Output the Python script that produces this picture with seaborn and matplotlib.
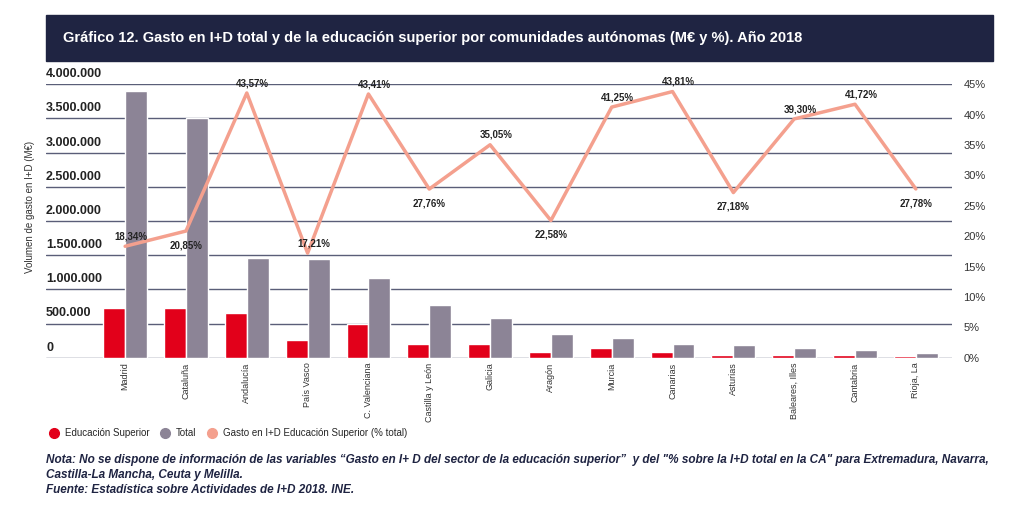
import numpy as np
import pandas as pd
import matplotlib.pyplot as plt
import matplotlib.transforms as mtransforms
import seaborn as sns
from matplotlib.lines import Line2D

regiones = ["Madrid", "Cataluña", "Andalucía", "País Vasco", "C. Valenciana", "Castilla y León",
            "Galicia", "Aragón", "Murcia", "Canarias", "Asturias", "Baleares, Illes",
            "Cantabria", "Rioja, La"]
educ_superior = [720000, 720000, 650000, 265000, 500000, 205000, 205000, 90000, 135000,
                 90000, 45000, 45000, 45000, 25000]
total = [3900000, 3500000, 1460000, 1440000, 1160000, 765000, 575000, 340000, 295000,
         205000, 180000, 135000, 115000, 65000]
porcentaje = [18.34, 20.85, 43.57, 17.21, 43.41, 27.76, 35.05, 22.58, 41.25, 43.81,
              27.18, 39.30, 41.72, 27.78]
etiqueta_abajo = [False, True, False, False, False, True, False, True, False, False,
                  True, False, False, True]

ROJO = "#E2001A"
GRIS = "#8C8496"
SALMON = "#F4A08E"
NAVY = "#1F2442"

sns.set_theme(style="white")
plt.rcParams["font.family"] = ["Liberation Sans", "DejaVu Sans"]

df = pd.DataFrame({"region": regiones * 2,
                   "valor": educ_superior + total,
                   "serie": ["Educación Superior"] * 14 + ["Total"] * 14})

fig = plt.figure(figsize=(10.24, 5.11), dpi=100)
fig.patches.append(plt.Rectangle((0.045, 0.88), 0.925, 0.09, transform=fig.transFigure,
                                 color=NAVY, zorder=0))
fig.text(0.062, 0.925, "Gráfico 12. Gasto en I+D total y de la educación superior por comunidades autónomas (M€ y %). Año 2018",
         color="white", fontsize=10.5, fontweight="bold", va="center")

ax = fig.add_axes([0.045, 0.30, 0.885, 0.535])
sns.barplot(data=df, x="region", y="valor", hue="serie", palette=[ROJO, GRIS],
            saturation=1, width=0.72, ax=ax, legend=False, zorder=3)
ax.set_ylim(0, 4000000)
yt = np.arange(0, 4000001, 500000)
ax.set_yticks(yt)
ax.set_yticklabels([])
ax.tick_params(axis="y", length=0)
trans = mtransforms.blended_transform_factory(ax.transAxes, ax.transData)
for v in yt:
    ax.text(0.0, v + 60000, f"{int(v):,}".replace(",", "."), transform=trans,
            ha="left", va="bottom", fontsize=9, fontweight="bold", color="#222")
ax.grid(axis="y", color="#5A5E78", linewidth=1, zorder=0)
ax.set_xlabel("")
ax.set_ylabel("Volumen de gasto en I+D (M€)", fontsize=7, color="#333")
ax.yaxis.set_label_coords(-0.012, 0.55)
ax.set_xlim(-1.3, 13.6)
ax.set_xticks(range(len(regiones)))
ax.set_xticklabels(regiones, rotation=90, fontsize=6.5, color="#333")
ax.tick_params(axis="x", length=0)
sns.despine(ax=ax, left=True, bottom=True)

ax2 = ax.twinx()
sns.lineplot(x=np.arange(len(regiones)), y=porcentaje, color=SALMON, linewidth=2.5, ax=ax2)
ax2.set_ylim(0, 45)
ax2.set_yticks(np.arange(0, 46, 5))
ax2.set_yticklabels([f"{v}%" for v in range(0, 46, 5)], fontsize=8, color="#333")
ax2.tick_params(axis="y", length=0, pad=8)
sns.despine(ax=ax2, left=True, bottom=True, right=True)
for i, (p, abajo) in enumerate(zip(porcentaje, etiqueta_abajo)):
    txt = f"{p:.2f}%".replace(".", ",")
    if abajo:
        ax2.text(i, p - 1.5, txt, ha="center", va="top", fontsize=7, fontweight="bold", color="#222")
    else:
        ax2.text(i + 0.1, p + 0.8, txt, ha="center", va="bottom", fontsize=7, fontweight="bold", color="#222")

handles = [Line2D([], [], marker="o", ls="", color=ROJO, markersize=7),
           Line2D([], [], marker="o", ls="", color=GRIS, markersize=7),
           Line2D([], [], marker="o", ls="", color=SALMON, markersize=7)]
fig.legend(handles, ["Educación Superior", "Total", "Gasto en I+D Educación Superior (% total)"],
           loc="lower left", bbox_to_anchor=(0.035, 0.125), ncol=3, frameon=False,
           fontsize=7, handletextpad=0.1, columnspacing=0.6)

nota = ("Nota: No se dispone de información de las variables “Gasto en I+ D del sector de la educación superior”  y del \"% sobre la I+D total en la CA\" para Extremadura, Navarra,\n"
        "Castilla-La Mancha, Ceuta y Melilla.\n"
        "Fuente: Estadística sobre Actividades de I+D 2018. INE.")
fig.text(0.045, 0.035, nota, fontsize=8.5, fontweight="bold", fontstyle="italic",
         color="#1F2442", linespacing=1.35)

fig.savefig("out.png", dpi=100)
